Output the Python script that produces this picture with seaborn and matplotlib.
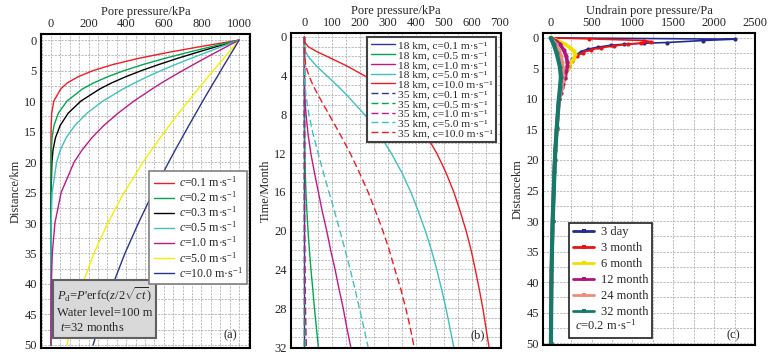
import matplotlib
matplotlib.use("Agg")
import matplotlib.pyplot as plt
import seaborn as sns
from matplotlib.ticker import MultipleLocator
from matplotlib.lines import Line2D

# ---------------- Panel (a): pore pressure vs depth, t = 32 months ----------------
depth_a = [0, 0.5, 1, 2, 3, 4, 5, 6, 7, 8, 10, 12, 14, 16, 18, 20, 25, 30, 35, 40, 45, 50]
pa_c01 = [1000, 903, 807, 626, 465, 330, 224, 145, 88, 52, 15, 4, 1, 0, 0, 0, 0, 0, 0, 0, 0, 0]
pa_c02 = [1000, 931, 863, 730, 605, 490, 389, 302, 228, 168, 85, 39, 16, 6, 2, 0.5, 0, 0, 0, 0, 0, 0]
pa_c03 = [1000, 944, 888, 778, 672, 574, 481, 398, 324, 260, 159, 91, 49, 24, 11, 5, 0.4, 0, 0, 0, 0, 0]
pa_c05 = [1000, 957, 913, 828, 744, 662, 585, 513, 446, 384, 276, 191, 127, 81, 50, 30, 6, 1, 0, 0, 0, 0]
pa_c10 = [1000, 969, 938, 877, 817, 758, 700, 644, 589, 538, 441, 356, 281, 218, 166, 123, 54, 21, 7, 2, 0.5, 0]
pa_c50 = [1000, 986, 972, 945, 918, 890, 863, 836, 809, 783, 730, 679, 629, 581, 535, 490, 389, 302, 228, 168, 121, 85]
pa_c100 = [1000, 990, 981, 961, 942, 922, 903, 884, 864, 845, 807, 770, 733, 697, 661, 626, 542, 465, 393, 330, 273, 224]
labels_a = ["0.1", "0.2", "0.3", "0.5", "1.0", "5.0", "10.0"]

# ---------------- Panel (b): pore pressure vs time at 18 km / 35 km ----------------
time_b = [0, 0.5, 1, 1.5, 2, 3, 4, 5, 6, 8, 10, 12, 14, 16, 18, 20, 22, 24, 26, 28, 30, 32]
pb_18_c01 = [0] * 22
pb_18_c05 = [0, 0, 0, 0, 0, 0, 0, 0, 0, 0, 0.4, 1.3, 3, 5.6, 9, 13, 18, 23.5, 30, 36, 43, 50]
pb_18_c10 = [0, 0, 0, 0, 0, 0, 0, 0.4, 1, 6, 13, 23, 36, 50, 64, 80, 94, 110, 124, 139, 152, 166]
pb_18_c50 = [0, 0, 0.4, 4, 13, 43, 80, 117, 152, 215, 267, 311, 349, 381, 408, 433, 455, 474, 491, 507, 521, 535]
pb_18_c100 = [0, 0.4, 13, 43, 80, 152, 215, 267, 311, 381, 433, 474, 507, 535, 558, 579, 597, 612, 626, 639, 650, 661]
pb_35_c01 = [0] * 22
pb_35_c05 = [0] * 22
pb_35_c10 = [0, 0, 0, 0, 0, 0, 0, 0, 0, 0, 0, 0, 0, 0, 0.3, 0.7, 1, 2, 3, 4, 5.5, 7]
pb_35_c50 = [0, 0, 0, 0, 0, 0.1, 0.7, 2.4, 5.5, 16, 31, 49, 68, 88, 108, 127, 146, 164, 181, 197, 213, 228]
pb_35_c100 = [0, 0, 0, 0.1, 0.7, 5.5, 16, 31, 49, 88, 127, 164, 197, 228, 255, 281, 304, 324, 345, 363, 379, 393]
labels_b_c = ["0.1", "0.5", "1.0", "5.0", "10.0"]

# ---------------- Panel (c): undrained pore pressure vs depth, c = 0.2 ----------------
z_3day = [0, 0.21, 0.43, 0.76, 0.87, 1.03, 1.2, 1.52, 1.85, 2.23, 2.78, 3.5, 4.5, 6, 8, 10, 15, 20, 30, 40, 50]
p_3day = [0, 2258, 1865, 1419, 1143, 900, 737, 575, 454, 373, 312, 265, 225, 178, 135, 100, 73, 50, 24, 9, 3]
z_3mon = [0, 0.16, 0.43, 0.6, 0.87, 1.03, 1.31, 1.63, 1.96, 2.4, 3.0, 3.8, 5.0, 6.5, 8, 10, 15, 20, 30, 40, 50]
p_3mon = [0, 474, 1143, 1224, 1103, 940, 778, 616, 494, 393, 320, 262, 210, 170, 135, 100, 73, 50, 24, 9, 3]
z_6mon = [0, 0.5, 1.0, 1.6, 2.2, 2.7, 3.3, 4.0, 5.0, 6.0, 7.0, 8.0, 10, 15, 20, 30, 40, 50]
p_6mon = [0, 90, 170, 240, 285, 300, 285, 250, 210, 175, 150, 130, 100, 73, 50, 24, 9, 3]
z_12mon = [0, 0.5, 1.0, 2.0, 3.0, 4.0, 4.6, 5.5, 6.5, 7.5, 9, 10, 15, 20, 30, 40, 50]
p_12mon = [0, 60, 110, 160, 190, 205, 205, 190, 170, 150, 122, 100, 73, 50, 24, 9, 3]
z_24mon = [0, 1, 2, 3, 4, 5, 6, 7, 8, 10, 15, 20, 30, 40, 50]
p_24mon = [0, 65, 100, 125, 140, 148, 150, 145, 135, 105, 73, 50, 24, 9, 3]
z_32mon = [0, 1, 2.5, 4.75, 6.4, 8, 10, 14.6, 18.4, 22, 30, 38, 50]
p_32mon = [0, 35, 73, 113, 125, 115, 100, 75, 57, 46, 24, 10, 3]
labels_c = ["3 day", "3 month", "6 month", "12 month", "24 month", "32 month"]

# ---------------- style ----------------
sns.set_style("ticks")
plt.rcParams['font.family'] = ['Liberation Serif', 'DejaVu Serif']
plt.rcParams['mathtext.fontset'] = 'custom'
plt.rcParams['mathtext.rm'] = 'Liberation Serif'
plt.rcParams['mathtext.it'] = 'Liberation Serif:italic'
plt.rcParams['mathtext.bf'] = 'Liberation Serif:bold'
plt.rcParams['font.size'] = 9

FS = 9
LFS = 8.6
W, H = 770, 354
fig = plt.figure(figsize=(7.7, 3.54), dpi=100)


def add_axes(l, r, t, b):
    return fig.add_axes([l / W, 1 - b / H, (r - l) / W, (b - t) / H])


def style(ax, xlim, ylim, xmaj, xmin, ymaj, ymin, xlabel, ylabel):
    ax.set_xlim(*xlim)
    ax.set_ylim(*ylim)
    ax.xaxis.tick_top()
    ax.xaxis.set_label_position('top')
    ax.xaxis.set_major_locator(MultipleLocator(xmaj))
    ax.xaxis.set_minor_locator(MultipleLocator(xmin))
    ax.yaxis.set_major_locator(MultipleLocator(ymaj))
    ax.yaxis.set_minor_locator(MultipleLocator(ymin))
    ax.grid(which='both', ls=(0, (2.5, 1.5)), color='#b0b0b0', lw=0.6)
    ax.set_axisbelow(True)
    for s in ax.spines.values():
        s.set_linewidth(1.5)
        s.set_color('black')
        s.set_visible(True)
    ax.tick_params(which='both', direction='in', labelsize=FS, length=0, pad=3,
                   top=True, bottom=False, labeltop=True, labelbottom=False)
    ax.set_xlabel(xlabel, fontsize=FS, labelpad=2)
    ax.set_ylabel(ylabel, fontsize=FS, labelpad=2)


# ---------------- (a) ----------------
axA = add_axes(41, 250, 34, 348)
cols_a = ['#ee1c24', '#00a651', '#000000', '#3fc0c0', '#c0188a', '#f5f000', '#283593']
series_a = [pa_c01, pa_c02, pa_c03, pa_c05, pa_c10, pa_c50, pa_c100]
zord_a = [2.0, 2.2, 2.1, 2.3, 2.4, 2.5, 2.6]
for vals, col, lab, zo in zip(series_a, cols_a, labels_a, zord_a):
    sns.lineplot(x=vals, y=depth_a, orient='y', sort=False, estimator=None, ax=axA,
                 color=col, lw=1.0, label=r"$c$=" + lab + r" m·s$^{-1}$", zorder=zo)
style(axA, (-53, 1058), (50.5, -1), 200, 50, 5, 2.5, "Pore pressure/kPa", "Distance/km")
h, l = axA.get_legend_handles_labels()
axA.legend(h, l, loc='upper right', bbox_to_anchor=(0.9856, 0.5637), borderaxespad=0,
           fontsize=LFS, frameon=True, fancybox=False, edgecolor='#808080', framealpha=1,
           handlelength=1.7, handletextpad=0.4, labelspacing=0.04, borderpad=0.35)
axA.get_legend().get_frame().set_linewidth(1.2)
axA.text(0.075, 0.045,
         r"$P_{\rm d}$=$P$'erfc($z$/2$\sqrt{ct}$)" + "\n" + "Water level=100 m" + "\n" + r" $t$=32 months",
         transform=axA.transAxes, ha='left', va='bottom', fontsize=FS, linespacing=1.2,
         bbox=dict(boxstyle='square,pad=0.33', fc='#d9d9d9', ec='#606060', lw=1.5), zorder=5)
axA.text(0.904, 0.04, "(a)", transform=axA.transAxes, ha='center', va='center', fontsize=FS)

# ---------------- (b) ----------------
axB = add_axes(290.7, 500.7, 33, 348)
cols_b = ['#2b3990', '#00a651', '#c0188a', '#3fc0c0', '#ee1c24']
solid_b = [pb_18_c01, pb_18_c05, pb_18_c10, pb_18_c50, pb_18_c100]
dash_b = [pb_35_c01, pb_35_c05, pb_35_c10, pb_35_c50, pb_35_c100]
for vals, col, lab in zip(solid_b, cols_b, labels_b_c):
    sns.lineplot(x=vals, y=time_b, orient='y', sort=False, estimator=None, ax=axB,
                 color=col, lw=1.0, label="18 km, c=" + lab + " m·s⁻¹")
for vals, col, lab in zip(dash_b, cols_b, labels_b_c):
    sns.lineplot(x=vals, y=time_b, orient='y', sort=False, estimator=None, ax=axB,
                 color=col, lw=1.0, ls=(0, (5, 2.5)), label="35 km, c=" + lab + " m·s⁻¹")
style(axB, (-49, 703), (32.1, -0.4), 100, 50, 4, 1, "Pore pressure/kPa", "Time/Month")
h, l = axB.get_legend_handles_labels()
legB = axB.legend(h, l, loc='upper right', bbox_to_anchor=(0.9776, 0.987), borderaxespad=0,
                  fontsize=8.2, frameon=True, fancybox=False, edgecolor='#404040', framealpha=1,
                  handlelength=2.1, handletextpad=0.25, labelspacing=-0.02, borderpad=0.3)
legB.get_frame().set_linewidth(1.5)
axB.text(0.892, 0.04, "(b)", transform=axB.transAxes, ha='center', va='center', fontsize=FS)

# ---------------- (c) ----------------
axC = add_axes(543, 755, 33, 345)
cols_c = ['#222c90', '#ee1111', '#f0e000', '#b0147f', '#f08a7a', '#137a6c']
lws_c = [1.2, 1.2, 2.6, 2.6, 2.6, 3.0]
series_c = [(z_3day, p_3day), (z_3mon, p_3mon), (z_6mon, p_6mon),
            (z_12mon, p_12mon), (z_24mon, p_24mon), (z_32mon, p_32mon)]
for (zz, pp), col, lw in zip(series_c, cols_c, lws_c):
    sns.lineplot(x=pp, y=zz, orient='y', sort=False, estimator=None, ax=axC,
                 color=col, lw=lw, marker='o', markersize=3, markeredgewidth=0)
style(axC, (-94, 2500), (50.3, -0.8), 500, 250, 5, 2.5, "Undrain pore pressure/Pa", "Distancekm")
handles_c = [Line2D([], [], color=c, lw=2.0, marker='s', ms=3, markeredgewidth=0) for c in cols_c]
handles_c.append(Line2D([], [], color='none'))
leg = axC.legend(handles_c, labels_c + [" "], loc='lower left', bbox_to_anchor=(0.124, 0.0224),
                 borderaxespad=0, fontsize=FS, frameon=True, fancybox=False, edgecolor='#202020',
                 framealpha=1, handlelength=1.7, handletextpad=0.5, labelspacing=0.32, borderpad=0.3)
leg.get_frame().set_linewidth(1.2)
axC.text(0.152, 0.062, r"$c$=0.2 m·s$^{-1}$", transform=axC.transAxes, ha='left', va='center',
         fontsize=FS, zorder=10)
axC.text(0.9, 0.03, "(c)", transform=axC.transAxes, ha='center', va='center', fontsize=FS)

fig.savefig("out.png", dpi=100)
